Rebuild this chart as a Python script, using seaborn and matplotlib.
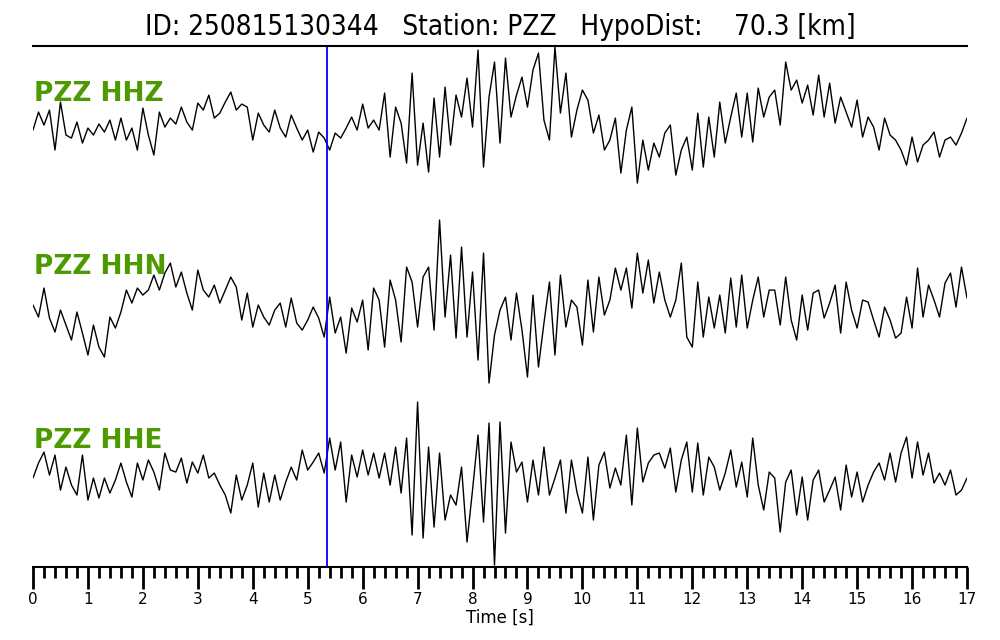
import numpy as np
import pandas as pd
import matplotlib
matplotlib.use('Agg')
import matplotlib.pyplot as plt
import seaborn as sns
from matplotlib.ticker import MultipleLocator

# event / station info
event_id = '250815130344'
station = 'PZZ'
hypo_dist = 70.3
channels = ['HHZ', 'HHN', 'HHE']
p_pick = 5.35  # s, P arrival

# samples every 0.1 s from 0 to 17 s (amplitudes, arbitrary units)
times = np.round(np.arange(171) * 0.1, 1)

hhz = [-5, 13, 0, 15, -25, 23, -10, -13, 3, -18,
       -3, -10, 1, -7, 5, -15, 7, -15, -3, -25,
       17, -10, -30, 13, -2, 7, 1, 18, 3, -5,
       22, 15, 30, 7, 12, 23, 33, 15, 21, 18,
       -15, 12, 0, -7, 15, -3, -12, 10, -3, -15,
       -5, -27, -7, -13, -25, -8, -13, -3, 8, -5,
       21, -3, 5, -5, 32, -32, 18, 2, -38, 52,
       -40, 2, -47, 27, -32, 38, -20, 30, 8, 47,
       -2, 75, -42, 28, 63, -18, 67, 8, 30, 48,
       18, 55, 72, 5, -15, 78, 12, 52, -12, 15,
       35, 25, -8, 10, -25, -15, 7, -48, -5, 18,
       -58, -15, -45, -18, -32, -8, 0, -50, -25, -12,
       -45, 12, -42, 8, -32, 23, -18, 8, 32, -12,
       32, -17, 37, 8, 28, 35, 0, 63, 35, 45,
       22, 40, 10, 50, 8, 42, 2, 28, 13, -2,
       25, -12, 8, -2, -25, 7, -10, -15, -25, -40,
       -12, -37, -20, -15, -7, -32, -15, -12, -20, -8,
       7]

hhn = [0, -12, 17, -13, -27, -5, -20, -35, -7, -28,
       -50, -20, -42, -52, -12, -23, -7, 15, 2, 17,
       10, 15, 30, 15, 32, 42, 18, 33, 12, -5,
       35, 15, 8, 20, 2, 15, 28, 18, -15, 12,
       -22, 0, -12, -20, -5, 2, -22, 7, -18, -25,
       -15, -2, -13, -32, 8, -28, -12, -48, -3, -17,
       5, -45, 17, 5, -42, 25, 5, -37, 38, 23,
       -22, 28, 38, -25, 85, -12, 50, -33, 58, -32,
       33, -55, 52, -78, -30, -5, 8, -35, 12, -25,
       -72, 10, -62, -18, 23, -50, 30, -22, 5, -2,
       -40, 25, -27, 28, -10, 5, 37, 15, 37, -3,
       52, 12, 45, 2, 33, 5, -12, 5, 42, -32,
       -42, 23, -32, 8, -23, 10, -28, 27, -22, 30,
       -23, 5, 28, -12, 15, 15, -20, 28, -15, -35,
       10, -25, 12, 15, -13, 2, 20, -28, 23, -5,
       -23, 5, 3, -15, -32, -2, -15, -33, -28, 8,
       -23, 37, -12, 20, 5, -12, 22, 32, -2, 38,
       7]

hhe = [-3, 12, 23, 0, 20, -15, 8, -10, -20, 20,
       -25, -3, -23, -3, -18, -5, 12, -7, -22, 12,
       -5, 15, 3, -15, 22, 5, 3, 17, -8, 13,
       2, 20, -3, 2, -10, -20, -38, 0, -25, -10,
       12, -32, 2, -27, 0, -25, -7, 8, -5, 25,
       5, 13, 22, 2, 37, 5, 33, -27, 20, -2,
       25, 0, 22, -3, 22, -10, 28, -18, 37, -60,
       73, -63, 28, -52, 22, -45, -20, -30, 8, -67,
       -15, 40, -47, 52, -90, 53, -58, 33, 3, 13,
       -27, 15, -20, 28, -20, -3, 15, -38, 15, -17,
       -38, 18, -45, 10, 23, -13, 7, -10, 40, -30,
       47, -7, 12, 20, 22, 7, 27, -17, 15, 33,
       -17, 32, -20, 18, 8, -15, 2, 25, -12, 13,
       -22, 37, -10, -35, 3, -3, -57, -7, 5, -40,
       -2, -45, -5, 5, -27, -15, -2, -35, 10, -22,
       3, -27, -10, 3, 12, -5, 22, -7, 22, 38,
       -3, 33, 0, 22, -8, 2, -10, 5, -20, -15,
       -3]

traces = {'HHZ': hhz, 'HHN': hhn, 'HHE': hhe}

# vertical offsets for stacking the three components
offsets = {'HHZ': -79, 'HHN': -259, 'HHE': -429}
label_y = {'HHZ': -55, 'HHN': -228, 'HHE': -402}

frames = []
for ch in channels:
    frames.append(pd.DataFrame({'time': times,
                                'amp': np.array(traces[ch]) + offsets[ch],
                                'channel': ch}))
df = pd.concat(frames, ignore_index=True)

sns.set_style('white')
plt.rcParams['font.family'] = ['DejaVu Sans']
plt.rcParams['text.color'] = 'black'
plt.rcParams['xtick.color'] = 'black'
plt.rcParams['axes.labelcolor'] = 'black'

fig = plt.figure(figsize=(10, 6.4), dpi=100)
ax = fig.add_axes([0.033, 0.114, 0.934, 0.814])

sns.lineplot(data=df, x='time', y='amp', units='channel', estimator=None,
             sort=False, color='black', linewidth=1.0, ax=ax)

ax.axvline(p_pick, color='blue', linewidth=1.3)

for ch in channels:
    ax.text(0.02, label_y[ch], f'{station} {ch}', color='#4c9a00',
            fontsize=19, fontweight='bold', va='baseline', ha='left')

ax.set_xlim(0, 17)
ax.set_ylim(-521, 0)
ax.xaxis.set_major_locator(MultipleLocator(1))
ax.xaxis.set_minor_locator(MultipleLocator(0.2))
ax.tick_params(axis='x', which='major', direction='out', length=16, width=2,
               labelsize=11, pad=2, bottom=True, colors='black')
ax.tick_params(axis='x', which='minor', direction='out', length=8, width=2,
               bottom=True, colors='black')
ax.set_yticks([])
ax.set_ylabel('')
ax.set_xlabel('Time [s]', fontsize=12, labelpad=1)

for side in ['left', 'right']:
    ax.spines[side].set_visible(False)
ax.spines['top'].set_linewidth(1.5)
ax.spines['bottom'].set_linewidth(1.5)
ax.spines['top'].set_color('black')
ax.spines['bottom'].set_color('black')

title = f'ID: {event_id}   Station: {station}   HypoDist: {hypo_dist:7.1f} [km]'
fig.text(0.5, 1 - 27 / 640, title, ha='center', va='center', fontsize=20,
         fontstretch='condensed', color='black')

fig.savefig('out.png', dpi=100)
